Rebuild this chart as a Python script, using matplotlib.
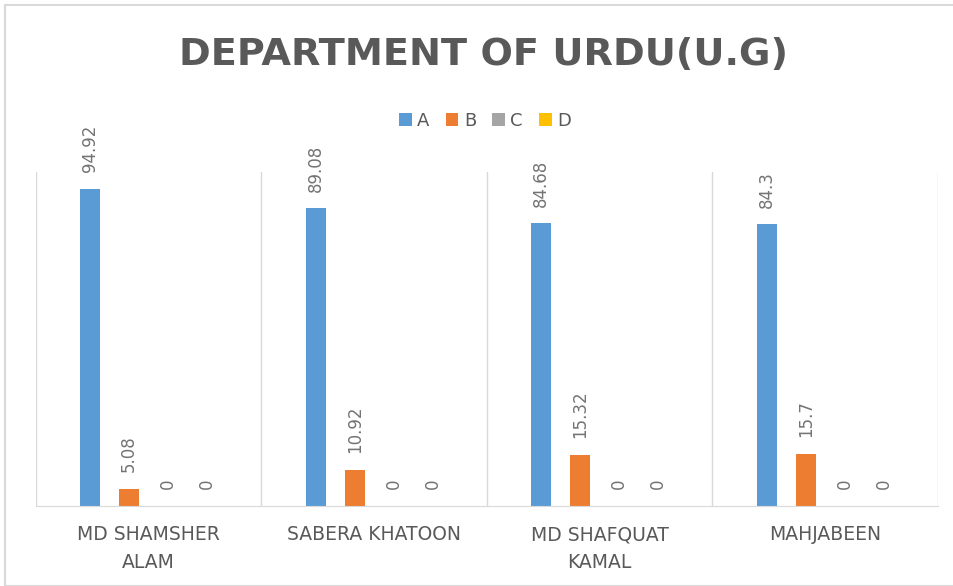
import matplotlib.pyplot as plt
import numpy as np

teachers = ['MD SHAMSHER\nALAM', 'SABERA KHATOON', 'MD SHAFQUAT\nKAMAL', 'MAHJABEEN']
grades = ['A', 'B', 'C', 'D']
grade_a = [94.92, 89.08, 84.68, 84.3]
grade_b = [5.08, 10.92, 15.32, 15.7]
grade_c = [0, 0, 0, 0]
grade_d = [0, 0, 0, 0]
colors = ['#5B9BD5', '#ED7D31', '#A5A5A5', '#FFC000']

fig = plt.figure(figsize=(9.54, 5.86), dpi=100)
ax = fig.add_axes([36 / 954, 1 - 506 / 586, (938 - 36) / 954, (506 - 172) / 586])

x = np.arange(len(teachers))
step = 0.173
width = 0.089
series = [grade_a, grade_b, grade_c, grade_d]
for i, vals in enumerate(series):
    pos = x + (i - 1.5) * step
    ax.bar(pos, vals, width, color=colors[i], label=grades[i])
    for xp, v in zip(pos, vals):
        ax.annotate(f'{v:g}', (xp, v), xytext=(0, 12), textcoords='offset points',
                    rotation=90, ha='center', va='bottom',
                    fontsize=12, color='#737373')

ax.set_xlim(-0.5, 3.5)
ax.set_ylim(0, 100)
ax.set_yticks([])
ax.set_xticks(x)
ax.set_xticklabels(teachers, fontsize=13.5, color='#595959', linespacing=1.55)
ax.tick_params(axis='x', length=0, pad=14)
for b in np.arange(-0.5, 4.0, 1):
    ax.axvline(b, color='#D9D9D9', lw=1, zorder=0)
for s in ['top', 'left', 'right']:
    ax.spines[s].set_visible(False)
ax.spines['bottom'].set_color('#D9D9D9')

fig.text(484 / 954, 1 - 55 / 586, 'DEPARTMENT OF URDU(U.G)', ha='center', va='center',
         fontsize=27.5, fontweight='bold', color='#595959')

fig.legend(loc='center', bbox_to_anchor=(485 / 954, 1 - 121 / 586), ncol=4,
           frameon=False, fontsize=13, handlelength=0.7, handleheight=0.7,
           handletextpad=0.3, columnspacing=0.9, labelcolor='#595959')

fig.patches.append(plt.Rectangle((5 / 954, 0), 1, 1 - 5 / 586, transform=fig.transFigure,
                                 fill=False, edgecolor='#D9D9D9', lw=1.5))
fig.savefig('out.png', dpi=100)
